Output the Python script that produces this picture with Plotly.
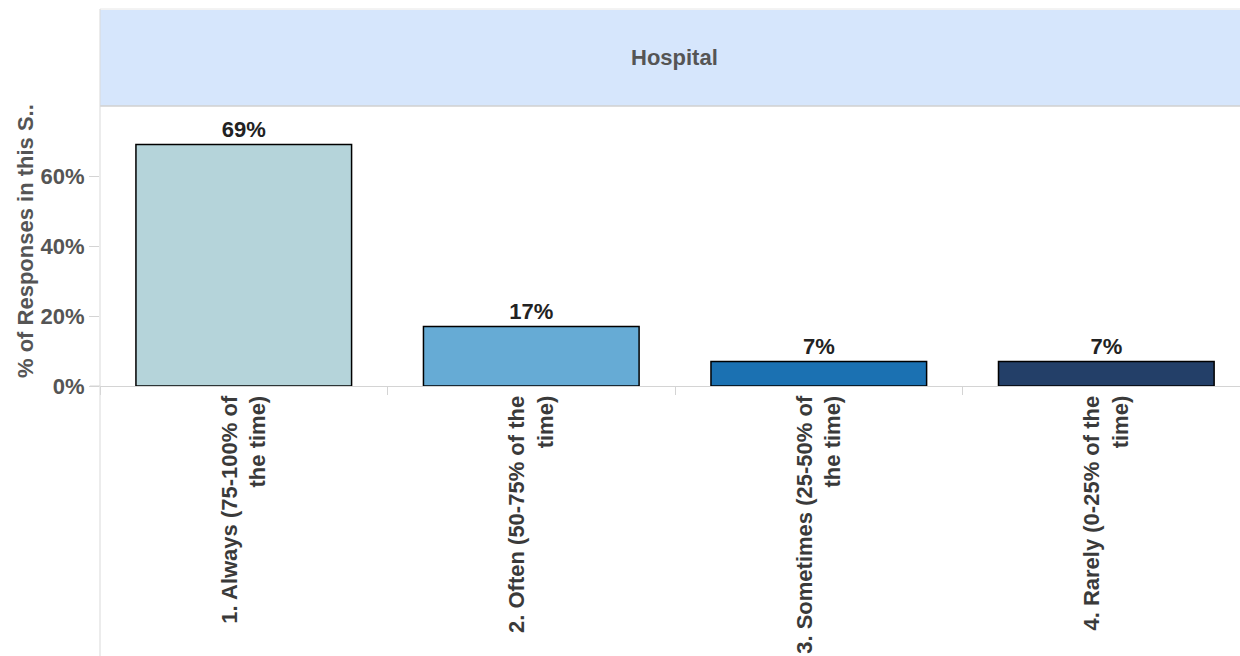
import plotly.graph_objects as go

categories = ["1. Always (75-100% of<br>the time)", "2. Often (50-75% of the<br>time)",
              "3. Sometimes (25-50% of<br>the time)", "4. Rarely (0-25% of the<br>time)"]
values = [69, 17, 7, 7]
labels = ["69%", "17%", "7%", "7%"]
colors = ["#B5D4DA", "#66ABD5", "#1B71B2", "#233F68"]
ytick_vals = [0, 20, 40, 60]
ytick_text = ["0%", "20%", "40%", "60%"]
panel_title = "Hospital"
y_title = "% of Responses in this S.."

W, H = 1240, 656
L, R, T, B = 100, 0, 106, 270
ph = H - T - B  # 280
pw = W - L - R

FONT = "Liberation Sans, Arial, sans-serif"
FS = 22

fig = go.Figure(go.Bar(
    x=categories, y=values, text=labels, textposition="outside",
    textfont=dict(family=FONT, size=FS, color="#222222"),
    marker=dict(color=colors, line=dict(color="#000000", width=1.5)),
    width=0.75, cliponaxis=False, texttemplate="<b>%{text}</b>",
))

fig.update_layout(
    width=W, height=H, margin=dict(l=L, r=R, t=T, b=B),
    plot_bgcolor="white", paper_bgcolor="white", showlegend=False,
    font=dict(family=FONT),
    xaxis=dict(type="category", range=[-0.5, 3.465], tickangle=-90,
               tickson="boundaries", ticks="outside", ticklen=8, tickcolor="#d4d4d4",
               showline=True, linecolor="#d4d4d4", linewidth=1, showgrid=False,
               ticktext=["<b>%s</b>" % c for c in categories], tickvals=categories,
               tickfont=dict(family=FONT, size=FS, color="#3a3a3a"), fixedrange=True),
    yaxis=dict(range=[0, 80], tickvals=ytick_vals, ticktext=["<b>%s</b>" % t for t in ytick_text],
               ticks="outside", ticklen=10, tickcolor="#d4d4d4", showline=False,
               showgrid=False, zeroline=False,
               tickfont=dict(family=FONT, size=FS, color="#555555")),
    shapes=[
        # header band
        dict(type="rect", xref="paper", yref="paper", x0=0, x1=1.01,
             y0=1, y1=1 + 96 / ph, fillcolor="#D6E6FC", line=dict(width=0), layer="below"),
        dict(type="line", xref="paper", yref="paper", x0=0, x1=1.01,
             y0=1 + 97 / ph, y1=1 + 97 / ph, line=dict(color="#e6e6e6", width=1)),
        dict(type="line", xref="paper", yref="paper", x0=0, x1=1.01,
             y0=1, y1=1, line=dict(color="#d0d0d0", width=1.5)),
        # left vertical line
        dict(type="line", xref="paper", yref="paper", x0=0, x1=0,
             y0=-270 / ph, y1=1 + 97 / ph, line=dict(color="#d9d9d9", width=1)),
        # axis line extension to the left
        dict(type="line", xref="paper", yref="paper", x0=-10 / pw, x1=0,
             y0=0, y1=0, line=dict(color="#d4d4d4", width=1)),
    ],
    annotations=[
        dict(text="<b>%s</b>" % panel_title, xref="paper", yref="paper",
             x=(674.5 - L) / pw, y=1 + 48 / ph, xanchor="center", yanchor="middle",
             showarrow=False, font=dict(family=FONT, size=FS, color="#555555")),
        dict(text="<b>%s</b>" % y_title, xref="paper", yref="paper", x=(25 - L) / pw,
             y=(386 - 241) / ph, xanchor="center", yanchor="middle", textangle=-90,
             showarrow=False, font=dict(family=FONT, size=FS, color="#555555")),
    ],
)

fig.write_html("out.html", config={"displayModeBar": False},
               post_script="document.body.style.margin='0';")
